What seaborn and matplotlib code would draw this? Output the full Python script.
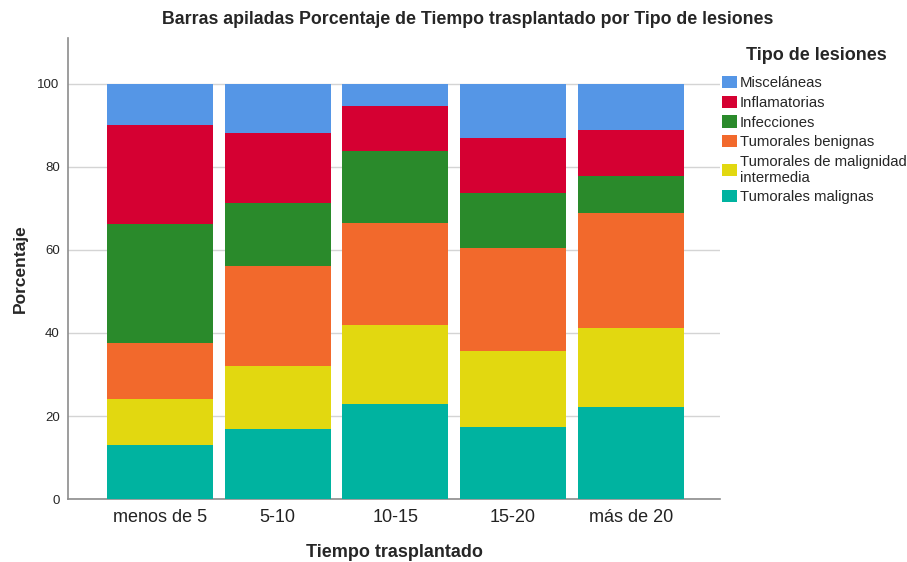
import matplotlib
matplotlib.use("Agg")
import matplotlib.pyplot as plt
import seaborn as sns
import numpy as np
from matplotlib.patches import Patch

categorias = ["menos de 5", "5-10", "10-15", "15-20", "más de 20"]

# segments from bottom to top
tumorales_malignas = [12.9, 16.9, 22.8, 17.4, 22.2]
tumorales_intermedia = [11.1, 15.2, 19.1, 18.3, 19.1]
tumorales_benignas = [13.7, 24.0, 24.6, 24.7, 27.7]
infecciones = [28.5, 15.1, 17.3, 13.3, 8.9]
inflamatorias = [23.8, 16.9, 10.9, 13.2, 11.0]
miscelaneas = [10.0, 11.9, 5.3, 13.1, 11.1]

series = [
    ("Tumorales malignas", tumorales_malignas, "#00b3a0"),
    ("Tumorales de malignidad\nintermedia", tumorales_intermedia, "#e2d810"),
    ("Tumorales benignas", tumorales_benignas, "#f2692c"),
    ("Infecciones", infecciones, "#2a8a2b"),
    ("Inflamatorias", inflamatorias, "#d50032"),
    ("Misceláneas", miscelaneas, "#5596e6"),
]

sns.set_style("white")
plt.rcParams["font.family"] = ["Liberation Sans", "DejaVu Sans"]

fig = plt.figure(figsize=(9.07, 5.62), dpi=100)
ax = fig.add_axes([0.075, 0.112, 0.719, 0.820])

bottom = np.zeros(len(categorias))
handles = []
for nombre, vals, col in series:
    sns.barplot(x=categorias, y=vals, bottom=bottom, color=col, width=0.9,
                saturation=1, linewidth=0, edgecolor="none", ax=ax, zorder=3)
    bottom = bottom + np.array(vals)
    handles.append(Patch(facecolor=col, edgecolor="none", label=nombre))

ax.set_ylim(0, 111)
ax.set_xlim(-0.78, 4.76)
ax.set_yticks([0, 20, 40, 60, 80, 100])
ax.yaxis.grid(True, color="#d4d4d4", linewidth=1, zorder=0)
ax.set_axisbelow(True)
for s in ["top", "right"]:
    ax.spines[s].set_visible(False)
for s in ["left", "bottom"]:
    ax.spines[s].set_color("#8c8c8c")
    ax.spines[s].set_linewidth(1.2)
ax.tick_params(axis="y", labelsize=9.5, length=0, pad=6)
ax.tick_params(axis="x", labelsize=13, length=0, pad=7, labelcolor="#222222")

ax.set_xlabel("Tiempo trasplantado", fontsize=13, fontweight="bold", labelpad=13)
ax.set_ylabel("Porcentaje", fontsize=12.5, fontweight="bold", labelpad=7)
fig.text(0.516, 1 - 20 / 562,
         "Barras apiladas Porcentaje de Tiempo trasplantado por Tipo de lesiones",
         ha="center", va="center", fontsize=12.8, fontweight="bold")

fig.text(816 / 907, 1 - 56 / 562, "Tipo de lesiones", ha="center", va="center",
         fontsize=13, fontweight="bold")
leg = fig.legend(handles=handles[::-1], loc="upper left",
                 bbox_to_anchor=(0.796, 1 - 76 / 562), frameon=False, fontsize=10.7,
                 handlelength=1.0, handleheight=0.9, handletextpad=0.2,
                 labelspacing=0.36, borderaxespad=0, borderpad=0)

fig.savefig("out.png", dpi=100)
